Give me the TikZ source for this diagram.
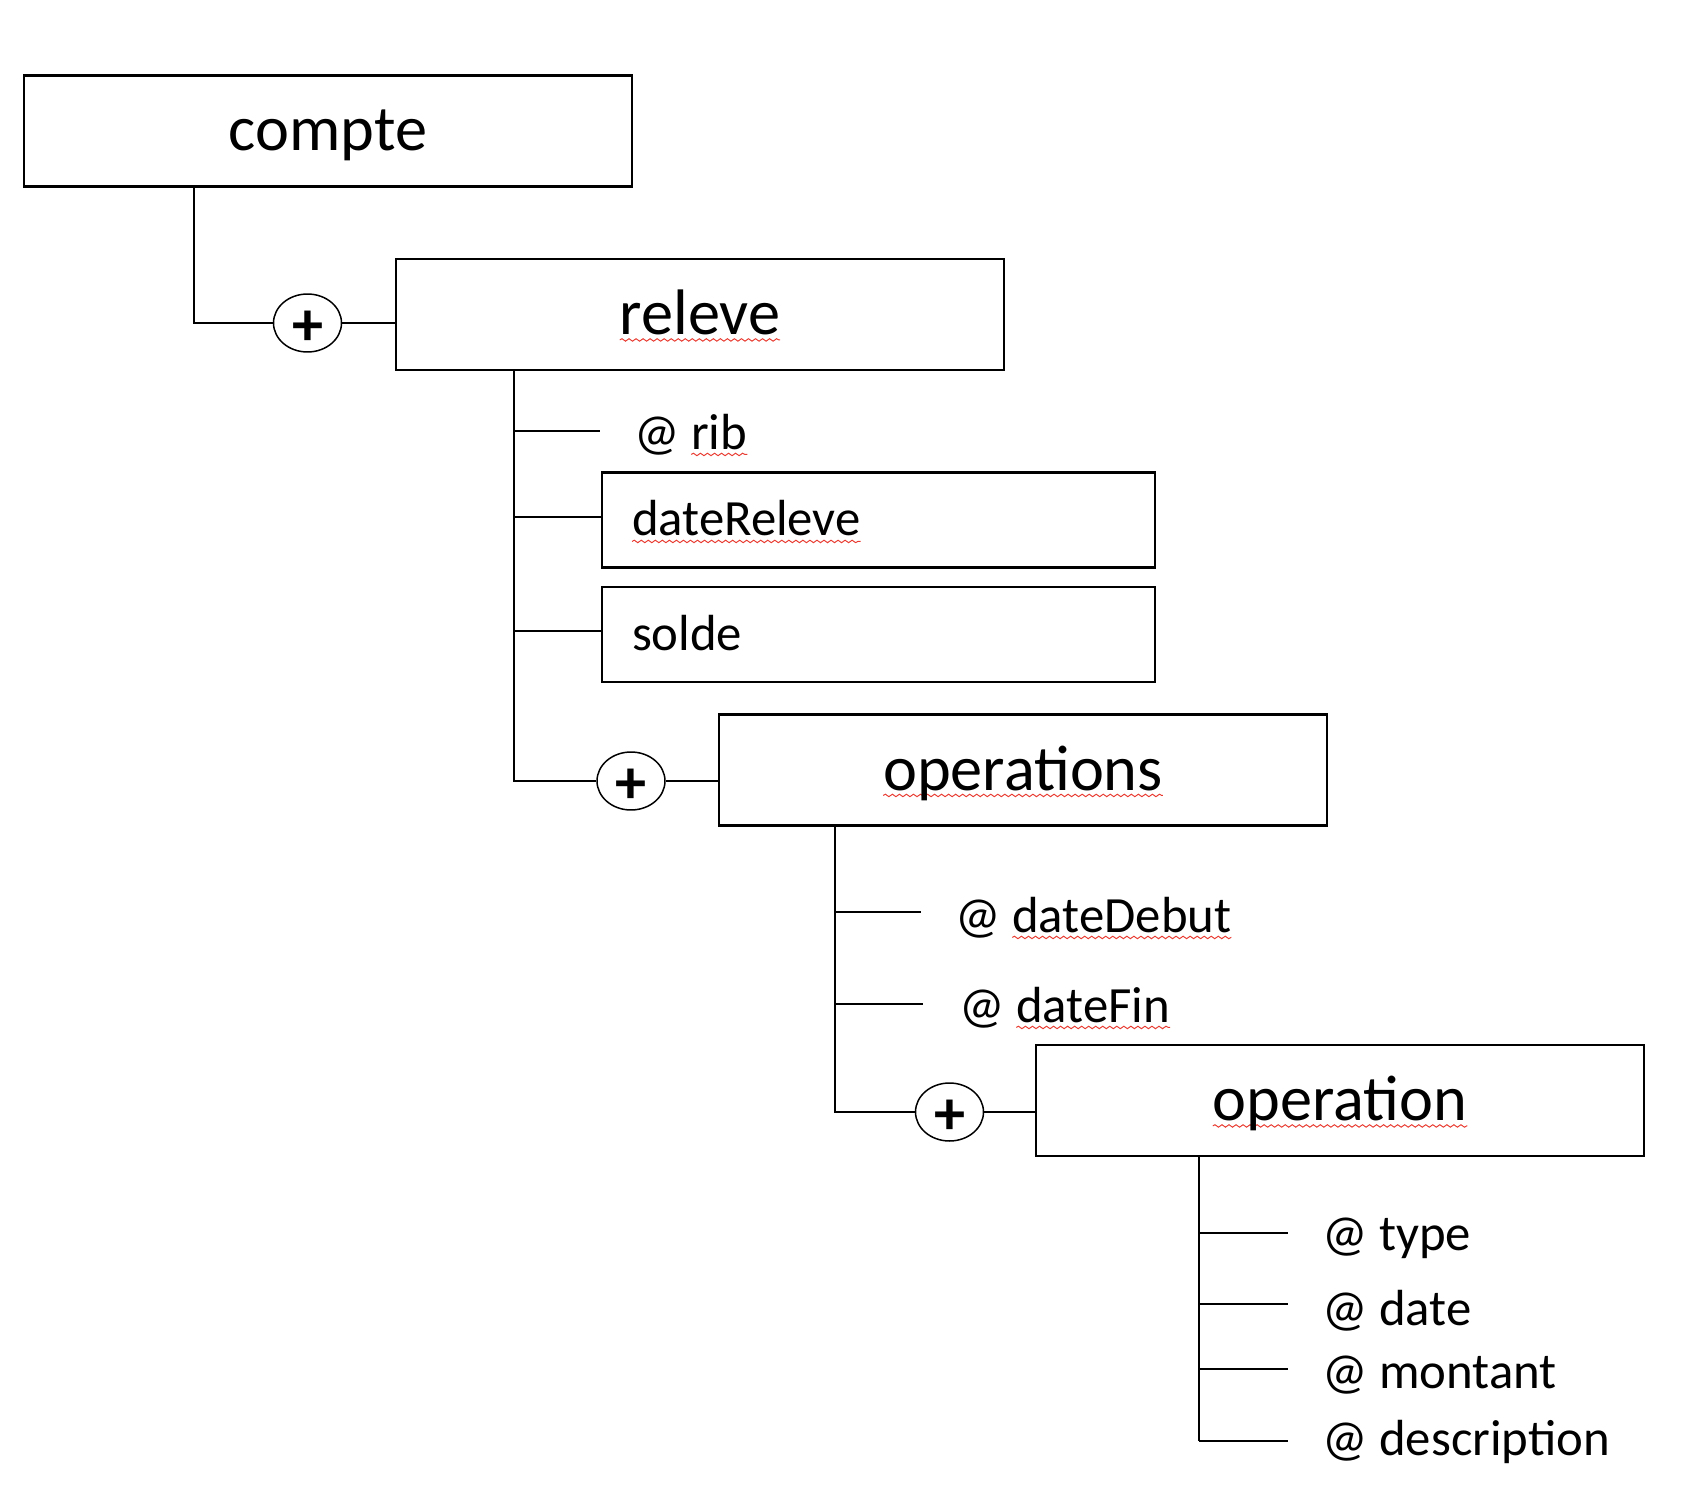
\documentclass[tikz,border=0pt]{standalone}
\usepackage{fontspec}
\setmainfont{Carlito}
\usetikzlibrary{shapes.geometric,decorations.pathmorphing}

\definecolor{spellred}{RGB}{232,58,48}

% wavy red mark under a word
\newcommand\spell[1]{\setbox0=\hbox{#1}\rlap{\tikz[overlay]\draw[spell line] (0pt,-3.1pt) -- (\wd0,-3.1pt);}\box0}

\tikzset{spell line/.style={draw=spellred,line width=0.55pt,decorate,
		decoration={snake,segment length=4pt,amplitude=0.7pt}}}

\begin{document}
\begin{tikzpicture}[x=0.02cm,y=-0.02cm,
		elem node/.style={draw,line width=1.5pt,minimum width=12.16cm,minimum height=2.22cm,
			inner sep=0pt,font=\fontsize{36.6}{41}\selectfont,text height=0.8cm,text depth=0pt},
		leaf node/.style={draw,line width=1.5pt,text width=9.86cm,inner xsep=0.6cm,inner ysep=0pt,
			minimum height=1.9cm,align=left,font=\fontsize{28.9}{33}\selectfont,text height=0.64cm,text depth=0pt},
		attr node/.style={inner sep=0pt,anchor=base west,font=\fontsize{28.9}{33}\selectfont},
		plus node/.style={ellipse,draw,line width=0.85pt,minimum width=1.36cm,minimum height=1.16cm,
			inner sep=0pt,font=\fontsize{35.4}{40}\selectfont\bfseries},
		link/.style={line width=0.85pt}]
	\useasboundingbox (0,0) rectangle (1684,1490);
	%
	% Elements.
	\node[elem node] (compte) at (328,131) {compte};
	\node[elem node] (releve) at (700,314.5) {\spell{releve}};
	\node[leaf node] (dateReleve) at (878.5,520) {\spell{dateReleve}};
	\node[leaf node] (solde) at (878.5,634.5) {solde};
	\node[elem node] (operations) at (1023,770) {\spell{operations}};
	\node[elem node] (operation) at (1340,1100.5) {\spell{operation}};
	%
	% Sequence markers.
	\node[plus node] (plus1) at (307.5,323) {\raisebox{-0.45cm}[0pt][0pt]{+}};
	\node[plus node] (plus2) at (631,781) {\raisebox{-0.45cm}[0pt][0pt]{+}};
	\node[plus node] (plus3) at (949.5,1112) {\raisebox{-0.45cm}[0pt][0pt]{+}};
	%
	% Bends of the trunks.
	\coordinate (t1) at (194,323);
	\coordinate (t2) at (514,781);
	\coordinate (t3) at (835,1112);
	\coordinate (t4) at (1199,1441);
	%
	% compte -> releve.
	\draw[link] (compte.south -| t1) |- (plus1.west);
	\draw[link] (plus1.east) -- (plus1.east -| releve.west);
	%
	% Children of releve.
	\draw[link] (releve.south -| t2) -- (t2) -- (plus2.west);
	\draw[link] (plus2.east) -- (plus2.east -| operations.west);
	\coordinate (rib end) at (600,431);
	\coordinate (dateReleve in) at ([yshift=0.06cm]dateReleve.west);
	\coordinate (solde in) at ([yshift=0.07cm]solde.west);
	\draw[link] (rib end -| t2) -- (rib end);
	\draw[link] (t2 |- dateReleve in) -- (dateReleve in);
	\draw[link] (t2 |- solde in) -- (solde in);
	\node[attr node] (rib) at (634,449) {@ \spell{rib}};
	%
	% Children of operations.
	\draw[link] (operations.south -| t3) -- (t3) -- (plus3.west);
	\draw[link] (plus3.east) -- (plus3.east -| operation.west);
	\coordinate (dateDebut end) at (921,912);
	\coordinate (dateFin end) at (923,1004);
	\draw[link] (dateDebut end -| t3) -- (dateDebut end);
	\draw[link] (dateFin end -| t3) -- (dateFin end);
	\node[attr node] (dateDebut) at (955,932) {@ \spell{dateDebut}};
	\node[attr node] (dateFin) at (959,1022) {@ \spell{dateFin}};
	%
	% Attributes of operation.
	\draw[link] (operation.south -| t4) -- (t4);
	\foreach \name/\y/\b in {type/1233/1250,date/1304/1325,montant/1369/1388,description/1441/1455} {
		\coordinate (\name end) at (1288,\y);
		\draw[link] (\name end -| t4) -- (\name end);
		\node[attr node] (\name) at (1322,\b) {@ \name};
	}
\end{tikzpicture}
\end{document}
